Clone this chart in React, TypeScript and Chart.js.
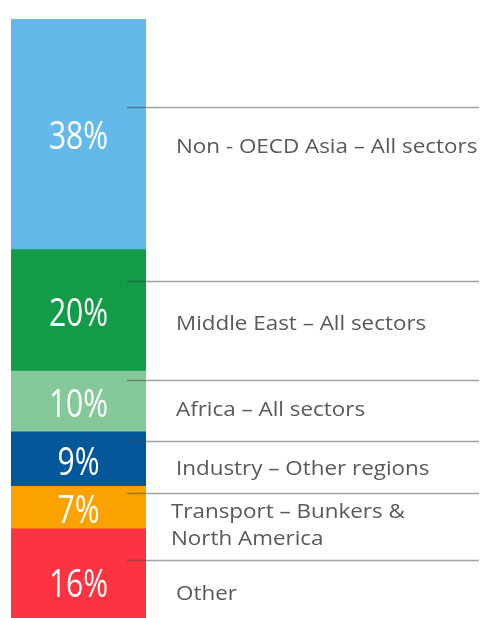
import React, { useEffect, useRef } from "react";
import { Chart, registerables } from "chart.js";

Chart.register(...registerables);

// Data (bottom to top of the stacked bar)
const categories = ["Share"];
const segmentNames: string[][] = [
  ["Other"],
  ["Transport – Bunkers &", "North America"],
  ["Industry – Other regions"],
  ["Africa – All sectors"],
  ["Middle East – All sectors"],
  ["Non - OECD Asia – All sectors"],
];
const shares = [16, 7, 9, 10, 20, 38];
const segmentColors = ["#fe3341", "#fba200", "#03589c", "#85c89a", "#139b48", "#63b9ea"];

// Annotation layout (pixel offsets relative to each segment's centre)
const lineOffsets = [-17.5, -15, -18, -21.5, -29, -27];
const textOffsets = [22.5, 10.6, 16, 14.2, 19.6, 18.7];
const textLeft = [176, 171, 176, 176, 176, 176];
const pctOffsets = [19.5, 15, 15.5, 15.5, 16, 15];

const annotationPlugin = {
  id: "sideLabels",
  afterDatasetsDraw(chart: any) {
    const ctx = chart.ctx;
    ctx.save();
    chart.data.datasets.forEach((ds: any, i: number) => {
      const meta = chart.getDatasetMeta(i);
      const el = meta.data[0];
      if (!el) return;
      const top = Math.min(el.y, el.base);
      const bottom = Math.max(el.y, el.base);
      const cy = (top + bottom) / 2;
      // percentage label
      ctx.save();
      ctx.fillStyle = "#ffffff";
      ctx.font = "400 38px 'Open Sans'";
      ctx.textAlign = "center";
      ctx.textBaseline = "alphabetic";
      ctx.translate(el.x, cy + pctOffsets[i]);
      ctx.scale(0.79, 1);
      ctx.fillText(ds.data[0] + "%", 0, 0);
      ctx.restore();
      // separator line
      const ly = Math.round(cy + lineOffsets[i]) + 0.5;
      ctx.save();
      ctx.strokeStyle = "rgba(70,70,70,0.5)";
      ctx.lineWidth = 1.6;
      ctx.beginPath();
      ctx.moveTo(127, ly);
      ctx.lineTo(479, ly);
      ctx.stroke();
      ctx.restore();
      // name text
      ctx.save();
      ctx.fillStyle = "#595959";
      ctx.font = "20px 'Open Sans'";
      ctx.textAlign = "left";
      ctx.textBaseline = "alphabetic";
      const lines: string[] = segmentNames[i];
      lines.forEach((t, k) => {
        ctx.save();
        ctx.translate(textLeft[i], cy + textOffsets[i] + k * 27);
        ctx.scale(1.12, 1);
        ctx.fillText(t, 0, 0);
        ctx.restore();
      });
      ctx.restore();
    });
    ctx.restore();
  },
};

export default function App() {
  const ref = useRef<HTMLCanvasElement | null>(null);
  useEffect(() => {
    if (!ref.current) return;
    const chart = new Chart(ref.current, {
      type: "bar",
      data: {
        labels: categories,
        datasets: shares.map((v, i) => ({
          label: segmentNames[i].join(" "),
          data: [v],
          backgroundColor: segmentColors[i],
          borderWidth: 0,
          barPercentage: 1,
          categoryPercentage: 1,
        })),
      },
      options: {
        responsive: false,
        animation: false,
        layout: { padding: { top: 19, left: 11, right: 337, bottom: 0 } },
        scales: {
          x: { stacked: true, display: false },
          y: { stacked: true, display: false, min: 0, max: 100 },
        },
        plugins: { legend: { display: false }, tooltip: { enabled: false } },
      },
      plugins: [annotationPlugin],
    });
    return () => chart.destroy();
  }, []);
  return (
    <div style={{ position: "absolute", left: 0, top: 0, width: 483, height: 618, overflow: "hidden", background: "#fff" }}>
      <canvas ref={ref} width={483} height={626} style={{ display: "block" }} />
    </div>
  );
}
